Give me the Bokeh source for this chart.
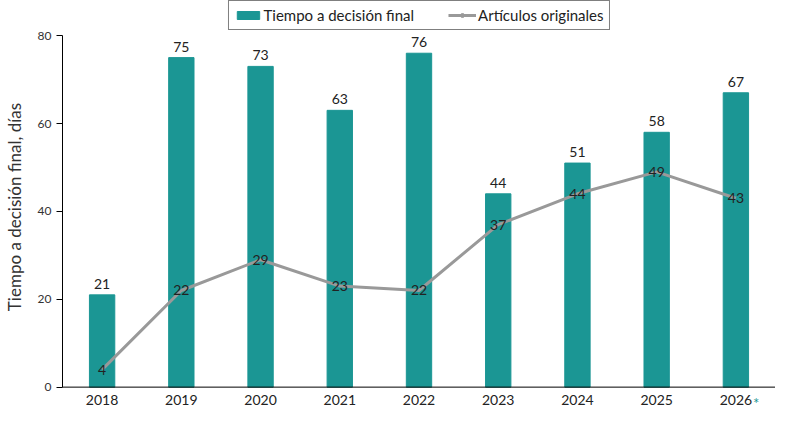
from bokeh.plotting import figure
from bokeh.models import ColumnDataSource, FactorRange, Range1d, Legend, LegendItem, Span
from bokeh.core.properties import value
from bokeh.embed import file_html
from bokeh.resources import INLINE

years = ["2018", "2019", "2020", "2021", "2022", "2023", "2024", "2025", "2026"]
tiempo = [21, 75, 73, 63, 76, 44, 51, 58, 67]
articulos = [4, 22, 29, 23, 22, 37, 44, 49, 43]

FONT = "Lato"
TEAL = "#1b9694"
GRAY = "#999999"

src = ColumnDataSource(data=dict(
    year=years,
    tiempo=tiempo,
    articulos=articulos,
    zero=[0] * len(years),
    tiempo_txt=[str(v) for v in tiempo],
    articulos_txt=[str(v) for v in articulos],
))

# rango y con margen arriba (leyenda) y abajo (etiquetas de los años)
p = figure(x_range=FactorRange(*years), y_range=Range1d(-6, 88),
           width=775, height=413, output_backend="svg", toolbar_location=None,
           min_border_left=0, min_border_right=0, min_border_bottom=0, min_border_top=0)

bars = p.vbar(x="year", top="tiempo", width=0.32, source=src, color=TEAL)
line = p.line(x="year", y="articulos", source=src, line_color=GRAY, line_width=3)
dot = p.scatter(x="year", y="articulos", source=src, size=5, color=GRAY, visible=False)

# eje x: linea en 0 y etiquetas de los años
p.add_layout(Span(location=0, dimension="width", line_color="black", line_width=1))
p.text(x="year", y="zero", text="year", source=src, text_align="center",
       text_baseline="top", y_offset=8, text_font=value(FONT),
       text_font_size="14px", text_color="#222222")
# asterisco en 2026
p.text(x=[years[-1]], y=[0], text=["*"], text_align="left", text_baseline="top",
       x_offset=17, y_offset=7, text_font=value(FONT), text_font_size="15px",
       text_color=TEAL)

# etiquetas de valores
p.text(x="year", y="tiempo", text="tiempo_txt", source=src, text_align="center",
       text_baseline="bottom", y_offset=-6, text_font=value(FONT),
       text_font_size="14px", text_color="#222222")
p.text(x="year", y="articulos", text="articulos_txt", source=src, text_align="center",
       text_baseline="middle", text_font=value(FONT), text_font_size="14px",
       text_color="#222222")

legend = Legend(items=[
    LegendItem(label="Tiempo a decisión final", renderers=[bars]),
    LegendItem(label="Artículos originales", renderers=[line, dot]),
], orientation="horizontal", location="top_center")
legend.border_line_color = "black"
legend.border_line_width = 1
legend.label_text_font = FONT
legend.label_text_font_size = "15px"
legend.label_text_color = "#222222"
legend.glyph_width = 28
legend.glyph_height = 10
legend.label_standoff = 2
legend.spacing = 34
legend.padding = 5
legend.margin = 0
legend.label_height = 16
p.add_layout(legend)

p.xgrid.visible = False
p.ygrid.visible = False
p.outline_line_color = None
p.xaxis.visible = False

p.yaxis.ticker = [0, 20, 40, 60, 80]
p.yaxis.bounds = (0, 80)
p.yaxis.minor_tick_line_color = None
p.yaxis.major_tick_out = 6
p.yaxis.major_tick_in = 0
p.yaxis.axis_line_color = "black"
p.yaxis.major_tick_line_color = "black"
p.yaxis.major_label_text_font = FONT
p.yaxis.major_label_text_font_size = "12px"
p.yaxis.major_label_text_color = "#333333"
p.yaxis.axis_label = "Tiempo a decisión final, días"
p.yaxis.axis_label_text_font = FONT
p.yaxis.axis_label_text_font_size = "17px"
p.yaxis.axis_label_text_font_style = "normal"
p.yaxis.axis_label_text_color = "#333333"
p.yaxis.axis_label_standoff = 10

open("out.html", "w").write(file_html(p, INLINE))
